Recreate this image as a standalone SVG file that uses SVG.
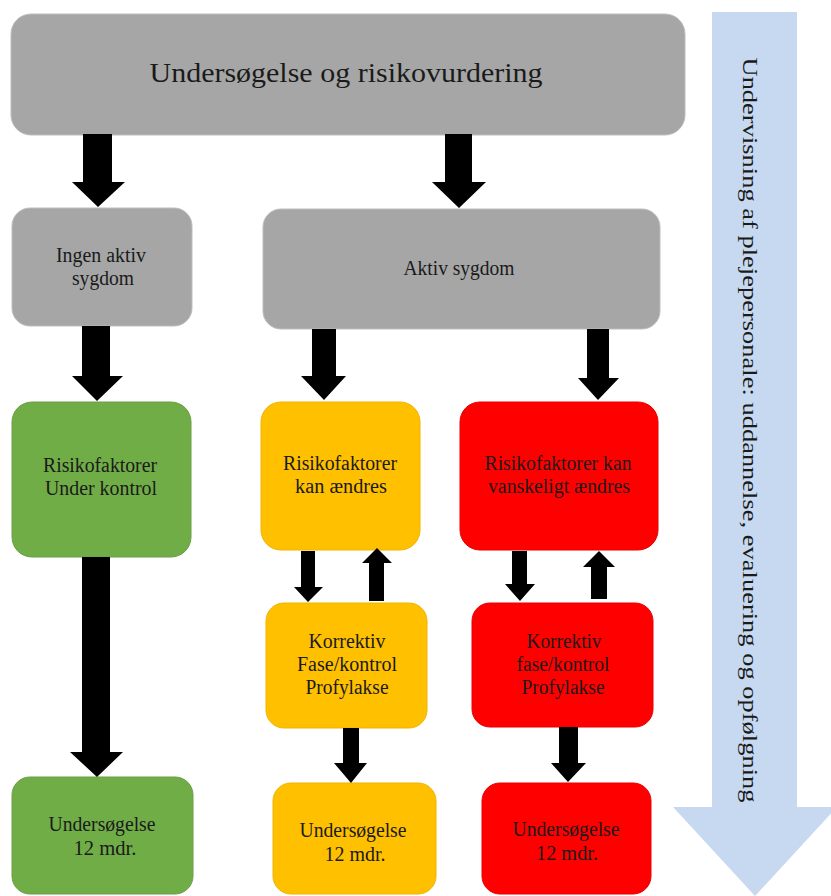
<svg xmlns="http://www.w3.org/2000/svg" width="831" height="896" viewBox="0 0 831 896">
<style>
.gray{fill:#a6a6a6;stroke:#bdbdbd;stroke-width:1}
.green{fill:#70ad47;stroke:#6a9f45;stroke-width:1}
.orange{fill:#ffc000;stroke:#f0b400;stroke-width:1}
.red{fill:#ff0000;stroke:#e80000;stroke-width:1}
text{font-family:'Liberation Serif','DejaVu Serif','Times New Roman',serif;fill:#1a1a1a;text-anchor:middle}
.s{font-size:20px}
.arr{fill:#000}
</style>
<rect width="831" height="896" fill="#fff"/>
<g id="side-arrow">
<polygon points="712,12 797,12 797,807 837,807 755,896 673,807 712,807" fill="#c6d9f0"/>
<text font-size="21" transform="translate(743,430) rotate(90)" textLength="745" lengthAdjust="spacingAndGlyphs">Undervisning af plejepersonale: uddannelse, evaluering og opfølgning</text>
</g>
<g id="top">
<rect class="gray" x="11" y="14" width="674" height="121" rx="20"/>
<text x="346" y="82" font-size="28" textLength="393" lengthAdjust="spacingAndGlyphs">Undersøgelse og risikovurdering</text>
</g>
<g id="ingen">
<rect class="gray" x="12" y="208" width="180" height="118" rx="18"/>
<text class="s" x="101" y="262" textLength="90" lengthAdjust="spacingAndGlyphs">Ingen aktiv</text>
<text class="s" x="103" y="285" textLength="62" lengthAdjust="spacingAndGlyphs">sygdom</text>
</g>
<g id="aktiv">
<rect class="gray" x="263" y="209" width="397" height="120" rx="18"/>
<text class="s" x="459" y="275" textLength="111" lengthAdjust="spacingAndGlyphs">Aktiv sygdom</text>
</g>
<g id="green1">
<rect class="green" x="12" y="402" width="179" height="155" rx="20"/>
<text class="s" x="100" y="472" textLength="114" lengthAdjust="spacingAndGlyphs">Risikofaktorer</text>
<text class="s" x="101" y="495" textLength="112" lengthAdjust="spacingAndGlyphs">Under kontrol</text>
</g>
<g id="orange1">
<rect class="orange" x="261" y="402" width="159" height="148" rx="20"/>
<text class="s" x="340" y="470" textLength="114" lengthAdjust="spacingAndGlyphs">Risikofaktorer</text>
<text class="s" x="341" y="493" textLength="92" lengthAdjust="spacingAndGlyphs">kan ændres</text>
</g>
<g id="red1">
<rect class="red" x="460" y="402" width="198" height="148" rx="20"/>
<text class="s" x="558" y="470" textLength="147" lengthAdjust="spacingAndGlyphs">Risikofaktorer kan</text>
<text class="s" x="559" y="493" textLength="142" lengthAdjust="spacingAndGlyphs">vanskeligt ændres</text>
</g>
<g id="orange2">
<rect class="orange" x="266" y="603" width="161" height="125" rx="18"/>
<text class="s" x="347" y="648" textLength="77" lengthAdjust="spacingAndGlyphs">Korrektiv</text>
<text class="s" x="347" y="671" textLength="100" lengthAdjust="spacingAndGlyphs">Fase/kontrol</text>
<text class="s" x="347" y="694" textLength="83" lengthAdjust="spacingAndGlyphs">Profylakse</text>
</g>
<g id="red2">
<rect class="red" x="472" y="603" width="181" height="124" rx="18"/>
<text class="s" x="564" y="648" textLength="75" lengthAdjust="spacingAndGlyphs">Korrektiv</text>
<text class="s" x="563" y="671" textLength="93" lengthAdjust="spacingAndGlyphs">fase/kontrol</text>
<text class="s" x="563" y="694" textLength="83" lengthAdjust="spacingAndGlyphs">Profylakse</text>
</g>
<g id="green2">
<rect class="green" x="12" y="777" width="181" height="117" rx="18"/>
<text class="s" x="102" y="831" textLength="107" lengthAdjust="spacingAndGlyphs">Undersøgelse</text>
<text class="s" x="105" y="855" textLength="63" lengthAdjust="spacingAndGlyphs">12 mdr.</text>
</g>
<g id="orange3">
<rect class="orange" x="273" y="783" width="163" height="111" rx="18"/>
<text class="s" x="353" y="837" textLength="107" lengthAdjust="spacingAndGlyphs">Undersøgelse</text>
<text class="s" x="355" y="861" textLength="61" lengthAdjust="spacingAndGlyphs">12 mdr.</text>
</g>
<g id="red3">
<rect class="red" x="482" y="783" width="169" height="111" rx="18"/>
<text class="s" x="566" y="836" textLength="107" lengthAdjust="spacingAndGlyphs">Undersøgelse</text>
<text class="s" x="567" y="860" textLength="62" lengthAdjust="spacingAndGlyphs">12 mdr.</text>
</g>
<g id="connectors" class="arr">
<polygon points="83,134 112,134 112,182 125,182 98,207 72,182 83,182"/>
<polygon points="445,134 472,134 472,182 486,182 459,208 432,182 445,182"/>
<polygon points="82,326 110,326 110,376 123,376 97,401 72,376 82,376"/>
<polygon points="312,329 336,329 336,376 346,376 324,400 301,376 312,376"/>
<polygon points="587,329 609,329 609,378 619,378 598,400 578,378 587,378"/>
<polygon points="82,557 110,557 110,752 123,752 97,777 70,752 82,752"/>
<polygon points="301,551 315,551 315,587 323,587 308,602 294,587 301,587"/>
<polygon points="369,601 384,601 384,563 392,563 377,548 362,563 369,563"/>
<polygon points="512,551 527,551 527,584 535,584 520,601 505,584 512,584"/>
<polygon points="591,599 607,599 607,567 615,567 599,551 583,567 591,567"/>
<polygon points="343,728 359,728 359,763 367,763 351,783 334,763 343,763"/>
<polygon points="559,727 578,727 578,763 586,763 568,782 551,763 559,763"/>
</g>
</svg>
